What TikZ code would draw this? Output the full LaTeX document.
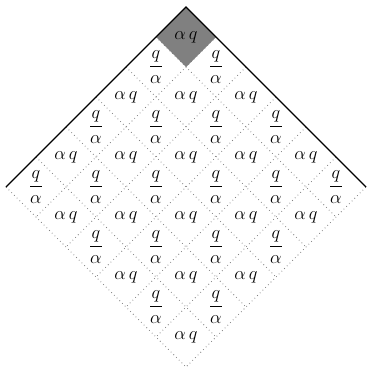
\documentclass[tikz,border=0pt]{standalone}
\usepackage{amsmath,amssymb}
\usepackage{xcolor}
\usepackage{tikz}
\usetikzlibrary{calc}
\definecolor{cellgray}{RGB}{128,128,128}
\definecolor{gridgray}{RGB}{130,130,130}

\begin{document}
\begin{tikzpicture}[x=0.69cm, y=0.69cm,
  gridline/.style={draw=gridgray, dotted, line width=0.5pt},
  edgeline/.style={draw=black, line width=0.9pt},
  lbl/.style={inner sep=0pt, font=\large}
]
  \useasboundingbox (-6.2,-6.133) rectangle (6.1,6.233);
  % corners of the diamond
  \coordinate (top) at (0,6);
  \coordinate (lft) at (-6,0);
  \coordinate (rgt) at (6,0);
  \coordinate (bot) at (0,-6);

  % dotted grid
  \foreach \k in {1,...,5}{
    \draw[gridline] (-\k,6-\k) -- (6-\k,-\k);
    \draw[gridline] (\k,6-\k) -- (\k-6,-\k);
  }
  \draw[gridline] (lft) -- (bot) -- (rgt);

  % shaded top cell
  \fill[cellgray] (top) -- (1,5) -- (0,4) -- (-1,5) -- cycle;

  % solid upper edges
  \draw[edgeline] (lft) -- (top) -- (rgt);

  % cell labels
  \foreach \i in {0,...,5}{
    \foreach \j in {0,...,5}{
      \pgfmathtruncatemacro{\r}{mod(\i+\j,2)}
      \ifnum\r=0
        \node[lbl] (c\i\j) at (\j-\i,5-\i-\j) {$\alpha\,q$};
      \else
        \node[lbl] (c\i\j) at (\j-\i,5-\i-\j) {$\displaystyle\frac{q}{\alpha}$};
      \fi
    }
  }
\end{tikzpicture}
\end{document}
